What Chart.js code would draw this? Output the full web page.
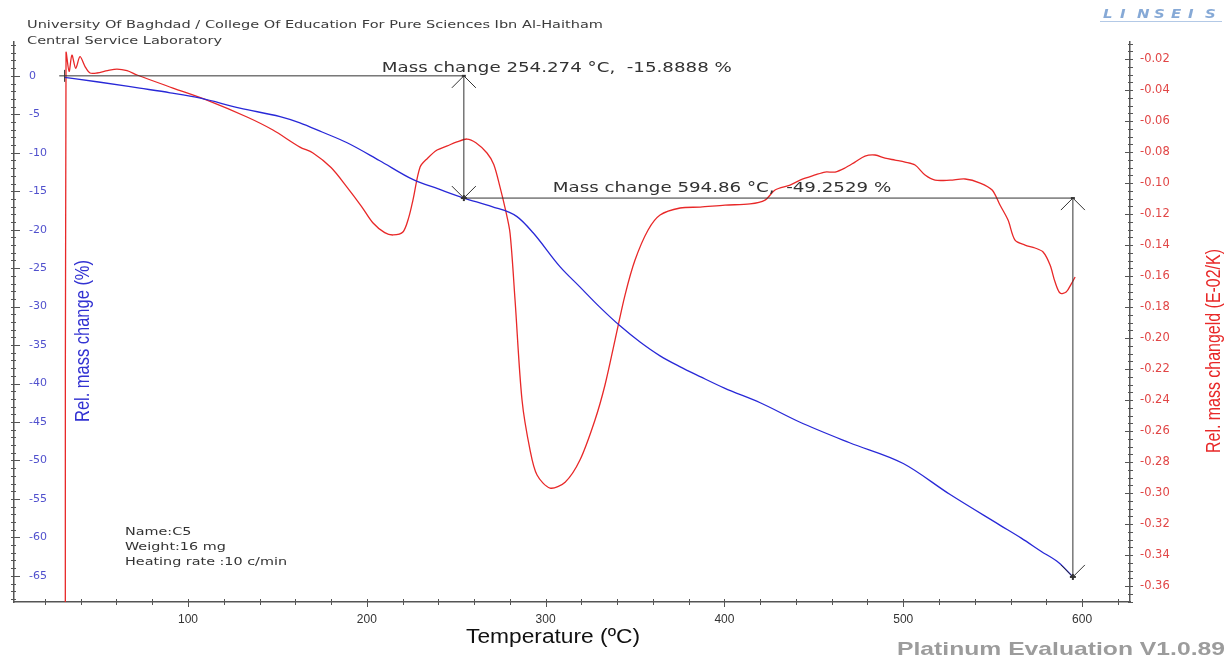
<!DOCTYPE html>
<html>
<head>
<meta charset="utf-8">
<title>TG / DTG - C5</title>
<script src="https://cdn.jsdelivr.net/npm/chart.js@4"></script>
<style>
  html, body { margin: 0; padding: 0; background: #fff; }
  canvas { display: block; }
</style>
</head>
<body>
<canvas id="tgaChart" width="1228" height="657"></canvas>
<script>
// TG curve: temperature (°C) -> relative mass change (%)
const tgTemp = [31, 50, 73, 90, 107, 129, 151.5, 162.6, 175, 189, 207, 226, 240, 254.274, 270, 284, 293, 308, 319, 330, 341.6, 352.8, 364, 375, 386.4, 400, 420, 442, 470, 500, 526, 554, 566, 577, 587, 594.86];
const tgMass = [-0.2, -0.8, -1.6, -2.2, -2.9, -4.2, -5.3, -6.1, -7.3, -8.7, -11.0, -13.5, -14.7, -15.8888, -17.0, -18.3, -20.4, -24.8, -27.4, -30.0, -32.5, -34.6, -36.4, -37.8, -39.1, -40.6, -42.5, -45.0, -47.7, -50.4, -54.4, -58.4, -60.1, -61.8, -63.3, -65.1417];

// DTG curve: temperature (°C) -> d(mass)/dT (E-02/K)
const dtgTemp = [31.4, 31.8, 33.5, 35.1, 37.2, 39.6, 42.5, 45.2, 49.1, 55, 60.3, 65.9, 71.5, 91.6, 110.6, 133, 147.5, 162.6, 169.9, 180, 188.9, 197, 203.5, 210, 214.7, 220.2, 223.5, 225.8, 229.8, 234, 239.3, 245, 250.4, 256, 261, 267.2, 271, 274.5, 277.5, 280.1, 282.9, 286.8, 291.3, 295.2, 302.5, 310.9, 319.2, 327.6, 333.2, 338.8, 344.4, 350, 357.3, 364, 375.2, 386.4, 400.3, 414.3, 422.7, 428.3, 436.7, 442.3, 450.7, 456.3, 461.9, 467.4, 473, 478.6, 484.2, 489.8, 495.4, 501, 506.6, 512.2, 517.8, 526.2, 534.6, 543, 549.7, 554.1, 558.6, 562.5, 568.1, 573.7, 578.2, 582.1, 584.9, 587.7, 591.1, 593.9, 596.1];
const dtgRate = [-0.40, -0.016, -0.028, -0.0175, -0.026, -0.0185, -0.025, -0.029, -0.029, -0.0275, -0.0265, -0.0275, -0.0303, -0.0387, -0.0465, -0.0574, -0.0658, -0.0768, -0.0806, -0.09, -0.1026, -0.115, -0.1258, -0.132, -0.1335, -0.1316, -0.122, -0.111, -0.0897, -0.084, -0.0787, -0.076, -0.0735, -0.0716, -0.074, -0.0806, -0.088, -0.1026, -0.117, -0.1323, -0.1755, -0.240, -0.2723, -0.2884, -0.2968, -0.293, -0.2787, -0.2529, -0.2303, -0.2013, -0.1723, -0.1497, -0.1303, -0.1206, -0.1161, -0.1155, -0.1142, -0.1135, -0.111, -0.1045, -0.1013, -0.0981, -0.0948, -0.0929, -0.0929, -0.0903, -0.0865, -0.0826, -0.0819, -0.0839, -0.0852, -0.0865, -0.0884, -0.0948, -0.0981, -0.0981, -0.0974, -0.1, -0.1045, -0.1142, -0.1239, -0.1368, -0.14, -0.1419, -0.1445, -0.1529, -0.1639, -0.171, -0.1703, -0.1652, -0.1606];

// axis tick labels
const tempTicks = [100, 200, 300, 400, 500, 600];
const massTicks = [0, -5, -10, -15, -20, -25, -30, -35, -40, -45, -50, -55, -60, -65];
const rateTicks = [-0.02, -0.04, -0.06, -0.08, -0.10, -0.12, -0.14, -0.16, -0.18, -0.20, -0.22, -0.24, -0.26, -0.28, -0.30, -0.32, -0.34, -0.36];

// evaluated mass change steps
const startTemp = 31;
const stepTemps = [254.274, 594.86];
const stepChanges = [-15.8888, -49.2529];

const BLUE = 'rgb(40, 40, 215)';
const RED = 'rgb(232, 40, 40)';
const AXIS = '#555';
const NARROW = "'Liberation Sans Narrow', 'Arial Narrow', 'Liberation Sans', sans-serif";

Chart.defaults.font.family = "'DejaVu Sans', sans-serif";

function drawText(ctx, text, x, y, o) {
  ctx.save();
  ctx.font = o.font;
  ctx.fillStyle = o.color;
  ctx.textBaseline = o.baseline || 'alphabetic';
  ctx.textAlign = o.align || 'left';
  let stretch = o.stretch || 1;
  if (o.width) stretch = o.width / ctx.measureText(text).width;
  ctx.translate(x, y);
  if (o.rotate) ctx.rotate(o.rotate);
  ctx.scale(stretch, 1);
  ctx.fillText(text, 0, 0);
  ctx.restore();
  return stretch;
}

function line(ctx, x1, y1, x2, y2) {
  ctx.beginPath();
  ctx.moveTo(x1, y1);
  ctx.lineTo(x2, y2);
  ctx.stroke();
}

// small tick marks along the three axes
const tickMarks = {
  id: 'tickMarks',
  afterDraw(chart) {
    const { ctx, chartArea: a, scales: { x, y, y1 } } = chart;
    ctx.save();
    ctx.strokeStyle = AXIS;
    ctx.lineWidth = 1;
    for (let v = 20; v <= x.max; v += 20) {
      const px = Math.round(x.getPixelForValue(v)) + 0.5;
      const major = v % 100 === 0;
      line(ctx, px, a.bottom - 3, px, a.bottom + (major ? 5 : 3));
    }
    for (let v = Math.ceil(y.min); v <= y.max; v += 1) {
      const py = Math.round(y.getPixelForValue(v)) + 0.5;
      const major = v % 5 === 0;
      line(ctx, a.left - 3, py, a.left + (major ? 6 : 2), py);
    }
    for (let v = -0.37; v <= y1.max; v += 0.005) {
      const py = Math.round(y1.getPixelForValue(v)) + 0.5;
      const major = Math.abs(Math.round(v * 100) - v * 100) < 1e-6 && Math.round(v * 100) % 2 === 0;
      line(ctx, a.right - (major ? 5 : 2), py, a.right + 3, py);
    }
    ctx.restore();
  }
};

// mass change evaluation: level lines, step arrows and their labels
const evaluation = {
  id: 'evaluation',
  afterDatasetsDraw(chart) {
    const { ctx, scales: { x, y } } = chart;
    ctx.save();
    ctx.strokeStyle = '#333';
    ctx.lineWidth = 1;
    let level = 0;
    let fromT = startTemp - 3;
    let stretch = null;
    stepTemps.forEach((t, i) => {
      const next = level + stepChanges[i];
      const px = x.getPixelForValue(t);
      const fromPx = x.getPixelForValue(fromT);
      const yTop = y.getPixelForValue(level);
      const yBot = y.getPixelForValue(next);
      line(ctx, fromPx, yTop, px, yTop);
      line(ctx, px, yTop, px, yBot);
      // open arrowheads
      line(ctx, px - 12, yTop + 12, px, yTop);
      line(ctx, px, yTop, px + 12, yTop + 12);
      line(ctx, px - 12, yBot - 12, px, yBot);
      line(ctx, px, yBot, px + 12, yBot - 12);
      ctx.lineWidth = 2;
      line(ctx, px - 3, yBot, px + 3, yBot);
      line(ctx, px, yBot - 3, px, yBot + 3);
      line(ctx, px - 2, yTop, px + 2, yTop);
      ctx.lineWidth = 1;

      const text = 'Mass change ' + t + ' \u00B0C,  ' + stepChanges[i] + ' %';
      const tx = i === 0 ? px - 82 : fromPx + 89;
      const ty = i === 0 ? yTop - 4 : yTop - 6;
      const opts = { font: '14px "DejaVu Sans", sans-serif', color: '#333' };
      if (stretch === null) {
        stretch = drawText(ctx, text, tx, ty, Object.assign({ width: 350 }, opts));
      } else {
        drawText(ctx, text, tx, ty, Object.assign({ stretch }, opts));
      }
      level = next;
      fromT = t;
    });
    // start marker of the evaluation
    const sx = x.getPixelForValue(startTemp);
    const sy = y.getPixelForValue(0);
    line(ctx, sx, sy - 6, sx, sy + 6);
    ctx.restore();
  }
};

// captions, axis titles and sample info
const captions = {
  id: 'captions',
  afterDraw(chart) {
    const { ctx } = chart;
    const small = '11px "DejaVu Sans", sans-serif';
    const s = drawText(ctx, 'University Of Baghdad / College Of Education For Pure Sciences Ibn Al-Haitham', 27, 28,
      { font: small, color: '#3c3c3c', width: 576 });
    drawText(ctx, 'Central Service Laboratory', 27, 44, { font: small, color: '#3c3c3c', stretch: s });

    const info = '10.5px "DejaVu Sans", sans-serif';
    const si = drawText(ctx, 'Heating rate :10 c/min', 125, 565, { font: info, color: '#333', width: 162 });
    drawText(ctx, 'Name:C5', 125, 535, { font: info, color: '#333', stretch: si });
    drawText(ctx, 'Weight:16 mg', 125, 550, { font: info, color: '#333', stretch: si });

    drawText(ctx, 'Rel. mass change (%)', 83, 341, {
      font: '20px ' + NARROW, color: 'rgb(50, 50, 210)', align: 'center', baseline: 'middle', rotate: -Math.PI / 2, width: 162
    });
    drawText(ctx, 'Rel. mass changeld (E-02/K)', 1214, 351, {
      font: '20px ' + NARROW, color: RED, align: 'center', baseline: 'middle', rotate: -Math.PI / 2, width: 204
    });
    drawText(ctx, 'Temperature (\u00BAC)', 553, 643, {
      font: '20px "Liberation Sans", sans-serif', color: '#111', align: 'center', width: 174
    });
    drawText(ctx, 'Platinum Evaluation V1.0.89', 1225, 655, {
      font: 'bold 19px "Liberation Sans", sans-serif', color: '#9c9c9c', align: 'right', width: 328
    });

    // instrument maker logo
    ctx.save();
    const letters = 'LINSEIS';
    letters.split('').forEach((ch, i) => {
      drawText(ctx, ch, 1103 + i * 17, 18, { font: 'italic bold 13px "DejaVu Sans", sans-serif', color: '#86a9d6', stretch: 1.15 });
    });
    ctx.strokeStyle = '#b3c9e6';
    ctx.lineWidth = 1;
    line(ctx, 1100, 21.5, 1222, 21.5);
    ctx.restore();
  }
};

const ctx = document.getElementById('tgaChart').getContext('2d');
const tgaChart = new Chart(ctx, {
  type: 'scatter',
  data: {
    datasets: [
      {
        label: 'TG',
        data: tgTemp.map((t, i) => ({ x: t, y: tgMass[i] })),
        yAxisID: 'y',
        showLine: true,
        borderColor: BLUE,
        borderWidth: 1.3,
        pointRadius: 0,
        cubicInterpolationMode: 'monotone'
      },
      {
        label: 'DTG',
        data: dtgTemp.map((t, i) => ({ x: t, y: dtgRate[i] })),
        yAxisID: 'y1',
        showLine: true,
        borderColor: RED,
        borderWidth: 1.3,
        pointRadius: 0,
        tension: 0.3
      }
    ]
  },
  options: {
    responsive: false,
    animation: false,
    layout: { padding: { top: 42, left: 0, right: 0, bottom: 0 } },
    plugins: {
      legend: { display: false },
      tooltip: { enabled: false }
    },
    scales: {
      x: {
        type: 'linear',
        min: 2.7,
        max: 626.8,
        afterBuildTicks: s => { s.ticks = tempTicks.map(v => ({ value: v })); },
        afterFit: s => { s.height = 55; },
        grid: { display: false },
        border: { color: AXIS, width: 1.5 },
        ticks: {
          padding: 2,
          color: '#333',
          font: { family: NARROW, size: 12 }
        }
      },
      y: {
        type: 'linear',
        position: 'left',
        min: -68.4,
        max: 4.4,
        afterBuildTicks: s => { s.ticks = massTicks.map(v => ({ value: v })); },
        afterFit: s => { s.width = 14; },
        grid: { display: false },
        border: { color: AXIS, width: 1.5 },
        ticks: {
          mirror: true,
          padding: 15,
          color: 'rgb(80, 80, 205)',
          font: { size: 11 }
        }
      },
      y1: {
        type: 'linear',
        position: 'right',
        min: -0.3703,
        max: -0.009,
        afterBuildTicks: s => { s.ticks = rateTicks.map(v => ({ value: v })); },
        afterFit: s => { s.width = 98; },
        grid: { display: false },
        border: { color: AXIS, width: 1.5 },
        ticks: {
          padding: 2,
          color: 'rgb(225, 70, 70)',
          font: { size: 11.5 },
          callback: v => v.toFixed(2)
        }
      }
    }
  },
  plugins: [tickMarks, evaluation, captions]
});
</script>
</body>
</html>
